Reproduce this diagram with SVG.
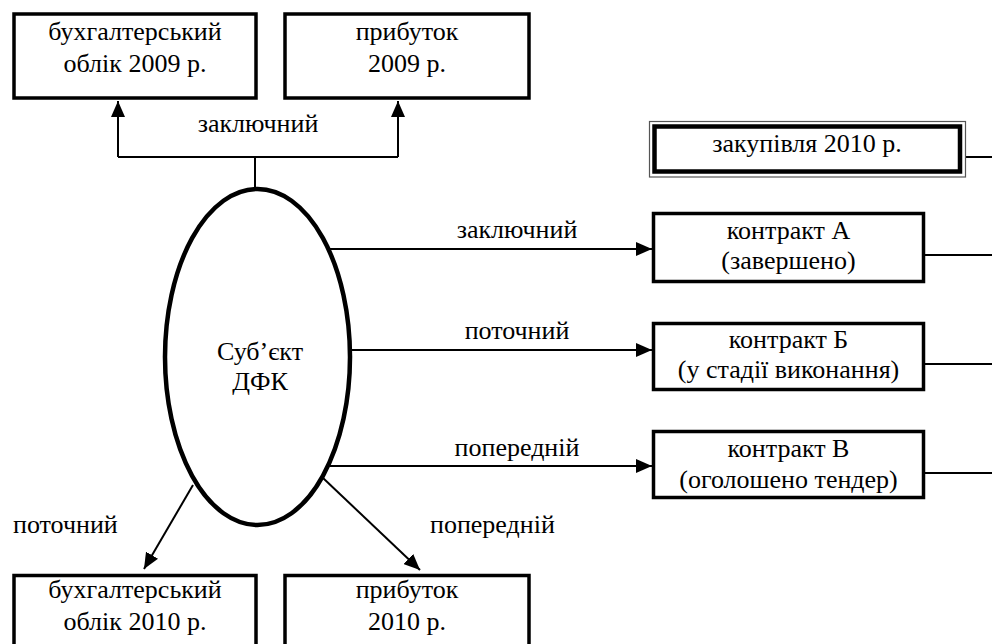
<svg xmlns="http://www.w3.org/2000/svg" width="992" height="644" viewBox="0 0 992 644">
<style>
text{font-family:"Liberation Serif","Times New Roman",serif;font-size:26px;fill:#000;}
.c{text-anchor:middle;}
.box{fill:#fff;stroke:#000;stroke-width:3.5;}
.ln{fill:none;stroke:#000;stroke-width:2;}
</style>
<defs>
<marker id="ah" viewBox="0 0 16 14" refX="16" refY="7" markerWidth="16" markerHeight="14" markerUnits="userSpaceOnUse" orient="auto">
<path d="M0,0 L16,7 L0,14 Z" fill="#000"/>
</marker>
</defs>
<rect width="992" height="644" fill="#fff"/>
<g id="connectors">
<path class="ln" d="M255,189 V157"/>
<path class="ln" d="M118,157 H398"/>
<path class="ln" d="M118,157 V101" marker-end="url(#ah)"/>
<path class="ln" d="M398,157 V101" marker-end="url(#ah)"/>
<path class="ln" d="M330,249 H652" marker-end="url(#ah)"/>
<path class="ln" d="M352,350 H652" marker-end="url(#ah)"/>
<path class="ln" d="M330,466 H652" marker-end="url(#ah)"/>
<path class="ln" d="M193,485 L144,569" marker-end="url(#ah)"/>
<path class="ln" d="M323,478 L420,570" marker-end="url(#ah)"/>
<path class="ln" d="M966,157 H992"/>
<path class="ln" d="M925,255 H992"/>
<path class="ln" d="M925,364 H992"/>
<path class="ln" d="M925,473 H992"/>
<text class="c" x="258" y="132">заключний</text>
<text class="c" x="517" y="238">заключний</text>
<text class="c" x="517" y="339">поточний</text>
<text class="c" x="517" y="456">попередній</text>
<text x="13" y="533">поточний</text>
<text x="430" y="533">попередній</text>
</g>
<g id="n-buh2009">
<rect class="box" x="14" y="14" width="242" height="84"/>
<text class="c" x="135" y="40">бухгалтерський</text>
<text class="c" x="135" y="72">облік 2009 р.</text>
</g>
<g id="n-prib2009">
<rect class="box" x="285" y="14" width="244" height="84"/>
<text class="c" x="407" y="40">прибуток</text>
<text class="c" x="407" y="72">2009 р.</text>
</g>
<g id="n-subject">
<ellipse cx="257.5" cy="357" rx="92.5" ry="168" fill="#fff" stroke="#000" stroke-width="4.5"/>
<text class="c" x="260" y="360">Суб’єкт</text>
<text class="c" x="260" y="390">ДФК</text>
</g>
<g id="n-zakup2010">
<rect x="649.5" y="121.5" width="316" height="55.5" fill="#fff" stroke="#555" stroke-width="1.2"/>
<rect x="654.5" y="126.5" width="305.5" height="45" fill="none" stroke="#000" stroke-width="4.5"/>
<text class="c" x="807" y="152">закупівля 2010 р.</text>
</g>
<g id="n-contractA">
<rect class="box" x="653.5" y="213.5" width="270" height="68"/>
<text class="c" x="788.5" y="239">контракт А</text>
<text class="c" x="788.5" y="269">(завершено)</text>
</g>
<g id="n-contractB">
<rect class="box" x="653.5" y="323.5" width="270" height="66"/>
<text class="c" x="788.5" y="348">контракт Б</text>
<text class="c" x="788.5" y="378">(у стадії виконання)</text>
</g>
<g id="n-contractV">
<rect class="box" x="653.5" y="431.5" width="270" height="66"/>
<text class="c" x="788.5" y="457">контракт В</text>
<text class="c" x="788.5" y="488">(оголошено тендер)</text>
</g>
<g id="n-buh2010">
<rect class="box" x="14" y="575.5" width="242" height="71"/>
<text class="c" x="135" y="598">бухгалтерський</text>
<text class="c" x="135" y="630">облік 2010 р.</text>
</g>
<g id="n-prib2010">
<rect class="box" x="285" y="575.5" width="244" height="71"/>
<text class="c" x="407" y="598">прибуток</text>
<text class="c" x="407" y="630">2010 р.</text>
</g>
</svg>
